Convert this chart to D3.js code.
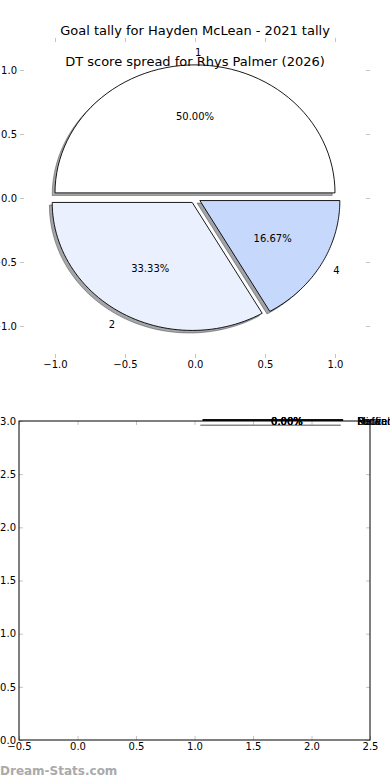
<!DOCTYPE html>
<html>
<head>
<meta charset="utf-8">
<script src="https://cdn.jsdelivr.net/npm/d3@7"></script>
<style>
  body { margin: 0; background: #fff; }
  svg { display: block; font-family: 'DejaVu Sans', sans-serif; }
</style>
</head>
<body>
<div id="plot_area"></div>
<script>
// Canvas size
const w = 390;
const h = 780;

// Data for the goal tally pie
const goalLabels = ['1', '2', '4'];
const goalCounts = [3, 2, 1];
const goalColors = ['#ffffff', '#eaf0fd', '#c6d9fc'];

// Data for the (empty) DT score spread pie
const dtLabels = ['Forward', 'Midfield', 'Ruck', 'Defender'];
const dtValues = [0, 0, 0, 0];

// Tick labels
const pieTicks = [-1.0, -0.5, 0.0, 0.5, 1.0];
const dtXTicks = [-0.5, 0.0, 0.5, 1.0, 1.5, 2.0, 2.5];
const dtYTicks = [0.0, 0.5, 1.0, 1.5, 2.0, 2.5, 3.0];

const explode = 0.04;
const tickColor = '#c4c4c4';
const fmt = d3.format('.1f');

const svg = d3.select('#plot_area')
    .append('svg')
    .attr('width', w)
    .attr('height', h);

// Titles
svg.append('text')
   .attr('x', w / 2)
   .attr('y', 35)
   .attr('text-anchor', 'middle')
   .style('font-size', '13px')
   .text('Goal tally for Hayden McLean - 2021 tally');

// ---------- top pie ----------
const xScale = d3.scaleLinear().domain([-1.25, 1.25]).range([20, 370]);
const yScale = d3.scaleLinear().domain([-1.25, 1.25]).range([358, 38]);

function styleAxis(g, showLabels) {
    g.select('.domain').remove();
    g.selectAll('.tick line').attr('stroke', tickColor).attr('stroke-width', 1);
    g.selectAll('.tick text').attr('fill', '#000');
    if (!showLabels) g.selectAll('.tick text').remove();
    g.style('font-size', '10px').style('font-family', "'DejaVu Sans', sans-serif");
}

svg.append('g').attr('transform', 'translate(0,358)')
   .call(d3.axisBottom(xScale).tickValues(pieTicks).tickFormat(fmt).tickSize(-4).tickPadding(3))
   .call(g => styleAxis(g, true));
svg.append('g').attr('transform', 'translate(0,38)')
   .call(d3.axisTop(xScale).tickValues(pieTicks).tickSize(-4))
   .call(g => styleAxis(g, false));
svg.append('g').attr('transform', 'translate(20,0)')
   .call(d3.axisLeft(yScale).tickValues(pieTicks).tickFormat(fmt).tickSize(-4).tickPadding(3))
   .call(g => styleAxis(g, true));
svg.append('g').attr('transform', 'translate(370,0)')
   .call(d3.axisRight(yScale).tickValues(pieTicks).tickSize(-4))
   .call(g => styleAxis(g, false));

const arcs = d3.pie().sort(null)(goalCounts);
const total = d3.sum(goalCounts);
const line = d3.line().x(d => xScale(d[0])).y(d => yScale(d[1]));

function wedgePoints(a, ox, oy) {
    const t1 = a.startAngle, t2 = a.endAngle; // radians, counterclockwise from east
    const mid = (t1 + t2) / 2;
    const cx = explode * Math.cos(mid) + ox;
    const cy = explode * Math.sin(mid) + oy;
    const pts = [[cx, cy]];
    d3.range(0, 61).forEach(i => {
        const t = t1 + (t2 - t1) * i / 60;
        pts.push([cx + Math.cos(t), cy + Math.sin(t)]);
    });
    pts.push([cx, cy]);
    return pts;
}

// shadows first
svg.selectAll('.shadow')
   .data(arcs)
   .enter()
   .append('path')
   .attr('class', 'shadow')
   .attr('d', a => line(wedgePoints(a, -0.02, -0.02)) + 'Z')
   .attr('fill', (a, i) => d3.rgb(goalColors[i]).darker(4))
   .attr('fill-opacity', 0.45)
   .attr('stroke', (a, i) => d3.rgb(goalColors[i]).darker(4))
   .attr('stroke-opacity', 0.45);

svg.selectAll('.wedge')
   .data(arcs)
   .enter()
   .append('path')
   .attr('class', 'wedge')
   .attr('d', a => line(wedgePoints(a, 0, 0)) + 'Z')
   .attr('fill', (a, i) => goalColors[i])
   .attr('stroke', '#000')
   .attr('stroke-width', 0.9)
   .attr('stroke-linejoin', 'round');

// wedge labels and percentages
arcs.forEach((a, i) => {
    const mid = (a.startAngle + a.endAngle) / 2;
    const cx = explode * Math.cos(mid);
    const cy = explode * Math.sin(mid);
    svg.append('text')
       .attr('x', xScale(cx + 1.1 * Math.cos(mid)))
       .attr('y', yScale(cy + 1.1 * Math.sin(mid)))
       .attr('dy', '0.35em')
       .attr('text-anchor', Math.cos(mid) > 0 ? 'start' : 'end')
       .style('font-size', '10px')
       .text(goalLabels[i]);
    svg.append('text')
       .attr('x', xScale(cx + 0.6 * Math.cos(mid)))
       .attr('y', yScale(cy + 0.6 * Math.sin(mid)))
       .attr('dy', '0.35em')
       .attr('text-anchor', 'middle')
       .style('font-size', '10px')
       .text((100 * a.value / total).toFixed(2) + '%');
});

// second title drawn over the pie
svg.append('text')
   .attr('x', w / 2)
   .attr('y', 66)
   .attr('text-anchor', 'middle')
   .style('font-size', '13px')
   .text('DT score spread for Rhys Palmer (2026)');

// ---------- bottom (empty) pie ----------
const x2 = d3.scaleLinear().domain([-0.5, 2.5]).range([19, 370]);
const y2 = d3.scaleLinear().domain([0, 3]).range([740, 421]);

svg.append('g').attr('transform', 'translate(0,740)')
   .call(d3.axisBottom(x2).tickValues(dtXTicks).tickFormat(fmt).tickSize(-4).tickPadding(3))
   .call(g => styleAxis(g, true));
svg.append('g').attr('transform', 'translate(0,421)')
   .call(d3.axisTop(x2).tickValues(dtXTicks).tickSize(-4))
   .call(g => styleAxis(g, false));
svg.append('g').attr('transform', 'translate(19,0)')
   .call(d3.axisLeft(y2).tickValues(dtYTicks).tickFormat(fmt).tickSize(-4).tickPadding(3))
   .call(g => styleAxis(g, true));
svg.append('g').attr('transform', 'translate(370,0)')
   .call(d3.axisRight(y2).tickValues(dtYTicks).tickSize(-4))
   .call(g => styleAxis(g, false));

svg.append('rect')
   .attr('x', x2(-0.5))
   .attr('y', y2(3))
   .attr('width', x2(2.5) - x2(-0.5))
   .attr('height', y2(0) - y2(3))
   .attr('fill', 'none')
   .attr('stroke', '#000')
   .attr('stroke-width', 1);

// degenerate wedges: all zero-angle, collapse onto a line
const dtCenter = [1.07, 3.0];
const dtRadius = 1.2;
const dtTotal = d3.sum(dtValues);
const line2 = d3.line().x(d => x2(d[0])).y(d => y2(d[1]));

svg.append('path')
   .attr('d', line2([[dtCenter[0] - 0.02, dtCenter[1] - 0.04], [dtCenter[0] - 0.02 + dtRadius, dtCenter[1] - 0.04]]))
   .attr('stroke', '#888')
   .attr('stroke-width', 1.5)
   .attr('fill', 'none');

dtValues.forEach((v, i) => {
    svg.append('path')
       .attr('d', line2([dtCenter, [dtCenter[0] + dtRadius, dtCenter[1]]]))
       .attr('transform', 'translate(0,-1)')
       .attr('stroke', '#000')
       .attr('stroke-width', 1)
       .attr('fill', 'none');
    svg.append('text')
       .attr('x', x2(dtCenter[0] + 0.6 * dtRadius))
       .attr('y', y2(dtCenter[1]))
       .attr('dy', '0.35em')
       .attr('text-anchor', 'middle')
       .style('font-size', '10px')
       .text((dtTotal ? 100 * v / dtTotal : 0).toFixed(2) + '%');
    svg.append('text')
       .attr('x', x2(dtCenter[0] + 1.1 * dtRadius))
       .attr('y', y2(dtCenter[1]))
       .attr('dy', '0.35em')
       .attr('text-anchor', 'start')
       .style('font-size', '10px')
       .text(dtLabels[i]);
});

// watermark
svg.append('text')
   .attr('x', 0)
   .attr('y', 775)
   .style('font-size', '12px')
   .style('font-weight', 'bold')
   .attr('fill', '#aaa')
   .text('Dream-Stats.com');
</script>
</body>
</html>
